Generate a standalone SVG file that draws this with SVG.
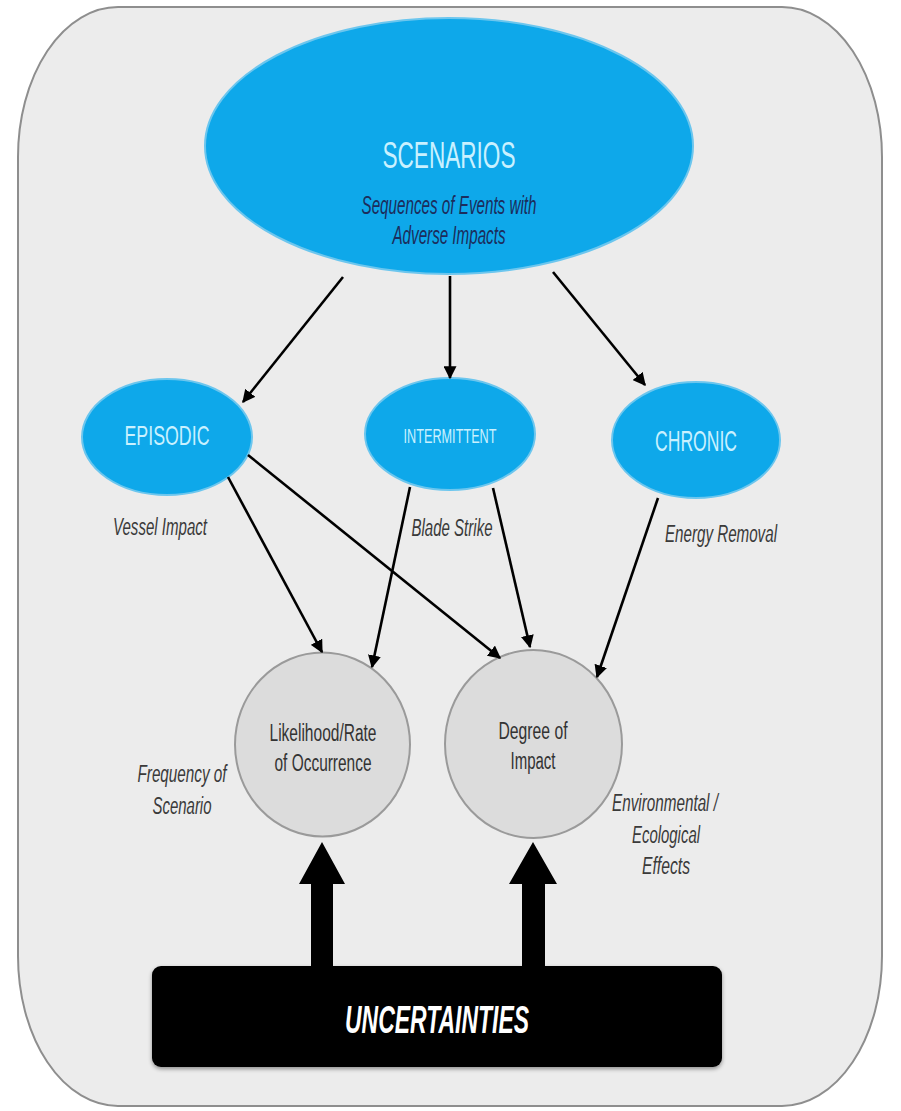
<svg xmlns="http://www.w3.org/2000/svg" width="901" height="1111" viewBox="0 0 901 1111">
<style>
.blue{fill:#0ea8ea;stroke:#6cc6ee;stroke-width:2}
.gray{fill:#dcdcdc;stroke:#9a9a9a;stroke-width:2}
.lbl{font-family:"Liberation Sans",Arial,sans-serif;fill:#3a3a3a;font-style:italic}
.in{font-family:"Liberation Sans",Arial,sans-serif;fill:#333333}
.wt{font-family:"Liberation Sans",Arial,sans-serif;fill:#c9f1ff}
.con{stroke:#000;stroke-width:2.6;fill:none;marker-end:url(#ah)}
</style>
<defs>
<marker id="ah" viewBox="0 0 10 10" refX="9" refY="5" markerWidth="5" markerHeight="5" orient="auto" markerUnits="strokeWidth">
<path d="M0,0 L10,5 L0,10 z" fill="#000"/>
</marker>
<filter id="sh" x="-5%" y="-5%" width="110%" height="120%">
<feGaussianBlur in="SourceAlpha" stdDeviation="2"/>
<feOffset dy="2"/>
<feComponentTransfer><feFuncA type="linear" slope="0.4"/></feComponentTransfer>
<feMerge><feMergeNode/><feMergeNode in="SourceGraphic"/></feMerge>
</filter>
</defs>
<rect x="0" y="0" width="901" height="1111" fill="#ffffff"/>
<rect id="frame" x="18" y="7" width="864" height="1099" rx="100" ry="150" fill="#ececec" stroke="#8e8e8e" stroke-width="2"/>

<g id="scenarios">
<ellipse class="blue" cx="449" cy="146" rx="244" ry="128"/>
<text class="wt" x="449" y="168" font-size="37" text-anchor="middle" textLength="133" lengthAdjust="spacingAndGlyphs">SCENARIOS</text>
<text x="449" y="214" font-size="26" text-anchor="middle" textLength="175" lengthAdjust="spacingAndGlyphs" font-family="Liberation Sans, Arial, sans-serif" font-style="italic" fill="#1c2d5c">Sequences of Events with</text>
<text x="449" y="244" font-size="26" text-anchor="middle" textLength="113" lengthAdjust="spacingAndGlyphs" font-family="Liberation Sans, Arial, sans-serif" font-style="italic" fill="#1c2d5c">Adverse Impacts</text>
</g>

<g id="episodic">
<ellipse class="blue" cx="167" cy="437" rx="85" ry="58"/>
<text class="wt" x="167" y="445" font-size="28" text-anchor="middle" textLength="85" lengthAdjust="spacingAndGlyphs">EPISODIC</text>
</g>
<g id="intermittent">
<ellipse class="blue" cx="450" cy="434" rx="85" ry="56"/>
<text class="wt" x="450" y="443" font-size="21" text-anchor="middle" textLength="93" lengthAdjust="spacingAndGlyphs">INTERMITTENT</text>
</g>
<g id="chronic">
<ellipse class="blue" cx="696" cy="440" rx="84" ry="58"/>
<text class="wt" x="696" y="451" font-size="29" text-anchor="middle" textLength="82" lengthAdjust="spacingAndGlyphs">CHRONIC</text>
</g>

<g id="labels">
<text class="lbl" x="160" y="535" font-size="23" text-anchor="middle" textLength="94" lengthAdjust="spacingAndGlyphs">Vessel Impact</text>
<text class="lbl" x="452" y="536" font-size="23" text-anchor="middle" textLength="81" lengthAdjust="spacingAndGlyphs">Blade Strike</text>
<text class="lbl" x="721" y="542" font-size="23" text-anchor="middle" textLength="112" lengthAdjust="spacingAndGlyphs">Energy Removal</text>
<text class="lbl" x="182" y="782" font-size="23" text-anchor="middle" textLength="89" lengthAdjust="spacingAndGlyphs">Frequency of</text>
<text class="lbl" x="182" y="814" font-size="23" text-anchor="middle" textLength="59" lengthAdjust="spacingAndGlyphs">Scenario</text>
<text class="lbl" x="665" y="811" font-size="23" text-anchor="middle" textLength="106" lengthAdjust="spacingAndGlyphs">Environmental /</text>
<text class="lbl" x="666" y="843" font-size="23" text-anchor="middle" textLength="68" lengthAdjust="spacingAndGlyphs">Ecological</text>
<text class="lbl" x="666" y="874" font-size="23" text-anchor="middle" textLength="48" lengthAdjust="spacingAndGlyphs">Effects</text>
</g>

<g id="likelihood">
<ellipse class="gray" cx="322.5" cy="744.5" rx="87.5" ry="92"/>
<text class="in" x="323" y="741" font-size="23" text-anchor="middle" textLength="107" lengthAdjust="spacingAndGlyphs">Likelihood/Rate</text>
<text class="in" x="323" y="771" font-size="23" text-anchor="middle" textLength="97" lengthAdjust="spacingAndGlyphs">of Occurrence</text>
</g>
<g id="degree">
<ellipse class="gray" cx="533.5" cy="744" rx="88.5" ry="94"/>
<text class="in" x="533" y="739" font-size="23" text-anchor="middle" textLength="69" lengthAdjust="spacingAndGlyphs">Degree of</text>
<text class="in" x="533" y="769" font-size="23" text-anchor="middle" textLength="45" lengthAdjust="spacingAndGlyphs">Impact</text>
</g>

<g id="connectors">
<line class="con" x1="343" y1="277" x2="243" y2="402"/>
<line class="con" x1="450" y1="276" x2="450" y2="378"/>
<line class="con" x1="553" y1="272" x2="645" y2="385"/>
<line class="con" x1="228" y1="477" x2="322" y2="652"/>
<line class="con" x1="248" y1="455" x2="500" y2="658"/>
<line class="con" x1="410" y1="487" x2="372" y2="667"/>
<line class="con" x1="493" y1="488" x2="530" y2="647"/>
<line class="con" x1="658" y1="498" x2="597" y2="677"/>
<polygon points="322,842 345,884 333,884 333,968 311,968 311,884 299,884" fill="#000"/>
<polygon points="533,842 557,884 545,884 545,968 522,968 522,884 509,884" fill="#000"/>
</g>

<g id="uncertainties">
<rect x="152" y="966" width="570" height="101" rx="9" fill="#000" filter="url(#sh)"/>
<text x="437" y="1033" font-size="38" text-anchor="middle" textLength="184" lengthAdjust="spacingAndGlyphs" font-family="Liberation Sans, Arial, sans-serif" font-style="italic" font-weight="bold" fill="#ffffff">UNCERTAINTIES</text>
</g>
</svg>
